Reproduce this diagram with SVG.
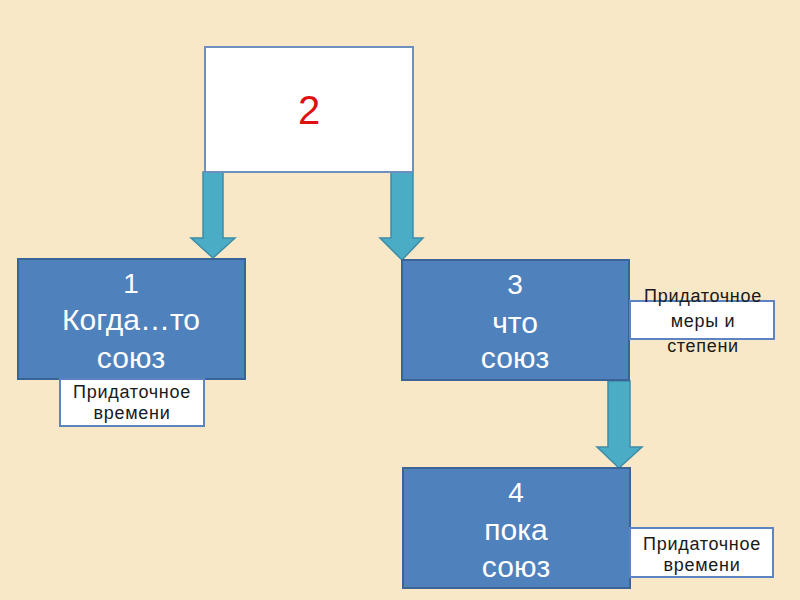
<svg xmlns="http://www.w3.org/2000/svg" width="800" height="600" viewBox="0 0 800 600">
<style>
.bg{fill:#F8E8C8}
.box{fill:#4F81BD;stroke:#3A6496;stroke-width:2}
.top{fill:#FFFFFF;stroke:#6F8FBF;stroke-width:2}
.lab{fill:#FFFFFF;stroke:#5B84C0;stroke-width:2}
.arr{fill:#4BACC6;stroke:#3F8CA6;stroke-width:1.5}
.bt{font-family:"Liberation Sans",Arial,sans-serif;font-size:30px;fill:#FFFFFF;text-anchor:middle}
.num{font-size:28px}
.lt{font-family:"Liberation Sans",Arial,sans-serif;font-size:18px;fill:#1A1A1A;text-anchor:middle;letter-spacing:0.7px}
</style>
<rect class="bg" x="0" y="0" width="800" height="600"/>
<g id="connectors">
<polygon class="arr" points="203,172 223,172 223,238 235,238 213,258 191,238 203,238"/>
<polygon class="arr" points="391,172 413,172 413,238 423,238 402,260 380,238 391,238"/>
<polygon class="arr" points="608,381 630,381 630,447 642,447 619,468 597,447 608,447"/>
</g>
<g id="node2">
<rect class="top" x="205" y="47" width="208" height="125"/>
<text x="309" y="124" font-family="Liberation Sans,Arial,sans-serif" font-size="40" fill="#E01010" text-anchor="middle">2</text>
</g>
<g id="node1">
<rect class="box" x="18" y="259" width="227" height="120"/>
<text class="bt num" x="131" y="293">1</text>
<text class="bt" x="131" y="330">Когда…то</text>
<text class="bt" x="131" y="368">союз</text>
</g>
<g id="node3">
<rect class="box" x="402" y="260" width="227" height="120"/>
<text class="bt num" x="515" y="294">3</text>
<text class="bt" x="515" y="333">что</text>
<text class="bt" x="515" y="368">союз</text>
</g>
<g id="node4">
<rect class="box" x="403" y="468" width="227" height="120"/>
<text class="bt num" x="516" y="502">4</text>
<text class="bt" x="516" y="540">пока</text>
<text class="bt" x="516" y="577">союз</text>
</g>
<g id="label1">
<rect class="lab" x="60" y="379" width="144" height="47"/>
<text class="lt" x="132" y="398">Придаточное</text>
<text class="lt" x="132" y="419">времени</text>
</g>
<g id="label3">
<rect class="lab" x="630" y="301" width="144" height="38"/>
<text class="lt" x="703" y="302">Придаточное</text>
<text class="lt" x="703" y="327">меры и</text>
<text class="lt" x="703" y="352">степени</text>
</g>
<g id="label4">
<rect class="lab" x="630" y="528" width="143" height="49"/>
<text class="lt" x="702" y="550">Придаточное</text>
<text class="lt" x="702" y="571">времени</text>
</g>
</svg>
